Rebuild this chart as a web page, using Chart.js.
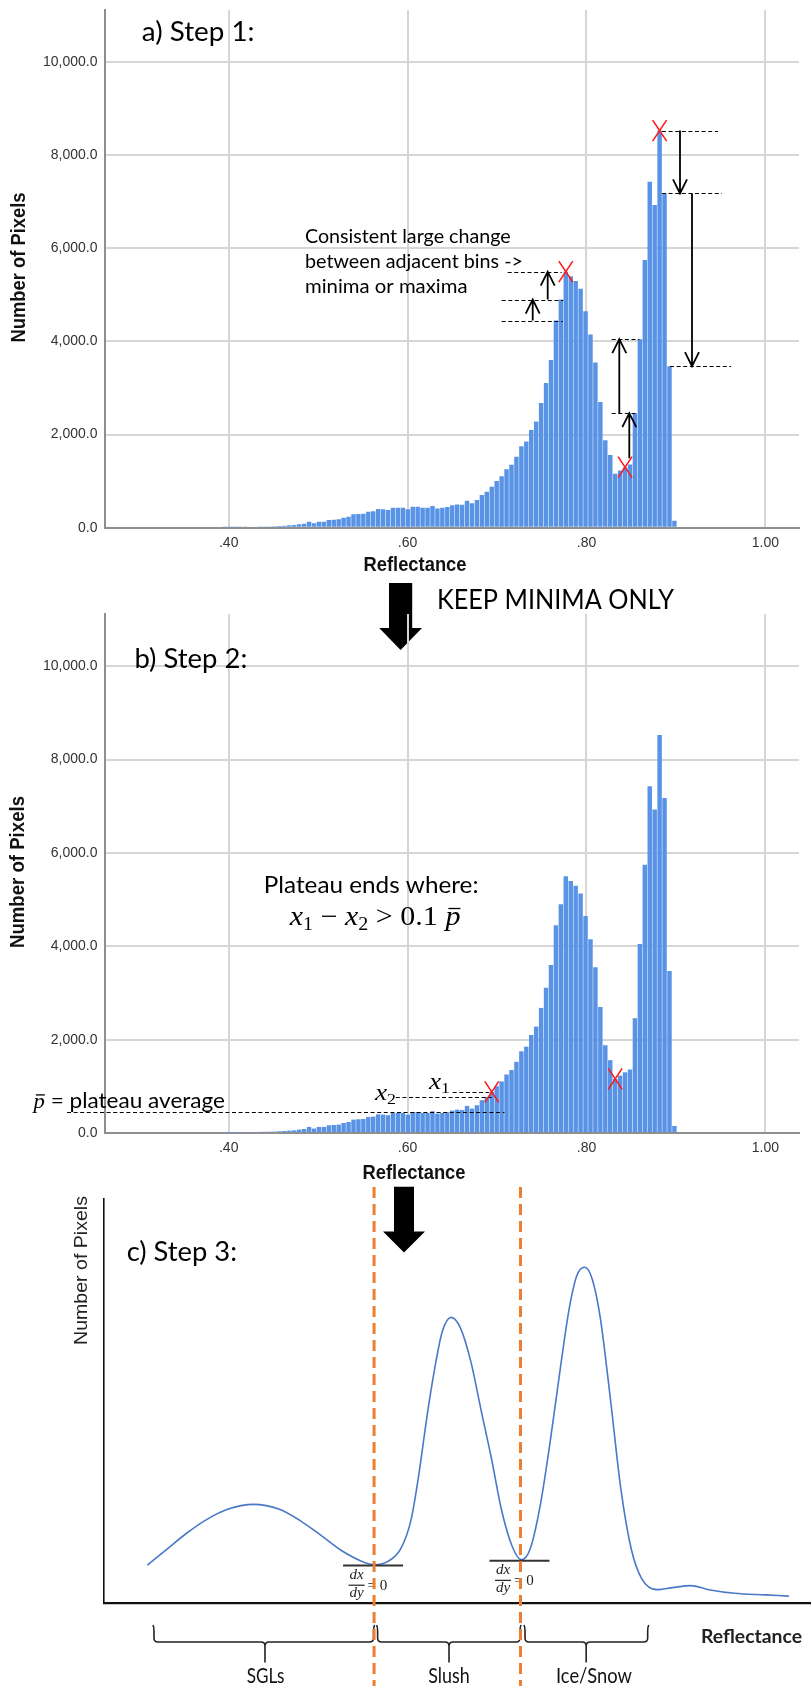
<!DOCTYPE html>
<html>
<head>
<meta charset="utf-8">
<title>Reflectance histogram – threshold steps</title>
<script src="https://cdn.jsdelivr.net/npm/chart.js@4"></script>
<style>
  html, body { margin: 0; padding: 0; background: #fff; }
  body { position: relative; width: 811px; height: 1686px; overflow: hidden; }
  canvas { position: absolute; left: 0; }
  #stepA { top: 0; }
  #stepB { top: 604px; }
  #stepC { top: 1180px; }
</style>
</head>
<body>
<canvas id="stepA" width="811" height="660"></canvas>
<canvas id="stepB" width="811" height="582"></canvas>
<canvas id="stepC" width="811" height="506"></canvas>
<script>
// histogram bins (reflectance) and pixel counts, panels a and b
const BIN_START = 0.396;
const BIN_WIDTH = 0.00552;
const pixelCounts = [
  8, 10, 12, 14, 16, 18, 20, 24, 26, 28,
  30, 36, 43, 50, 57, 72, 86, 130, 95, 130,
  130, 165, 172, 180, 215, 236, 287, 294, 300, 344,
  351, 400, 394, 380, 430, 430, 430, 394, 451, 451,
  430, 430, 466, 415, 430, 444, 480, 500, 494, 580,
  523, 595, 702, 774, 881, 1003, 1105, 1254, 1350, 1525,
  1750, 1850, 2100, 2280, 2680, 3110, 3600, 4450, 4900, 5500,
  5400, 5300, 5130, 4650, 4150, 3550, 2700, 1880, 1560, 1160,
  1230, 1300, 1360, 2460, 4050, 5750, 7430, 6930, 8530, 7180,
  3470, 150
];
const reflectanceBins = pixelCounts.map((_, i) => +(BIN_START + i * BIN_WIDTH).toFixed(5));

const xTicks = [0.4, 0.6, 0.8, 1.0];
const yTicks = [0, 2000, 4000, 6000, 8000, 10000];
const PLATEAU_MEAN = 450;

// smoothed distribution for panel c (arbitrary units)
const curveReflectance = [6.14, 8.7, 11.63, 14.56, 17.48, 21.15, 24.81, 27.74, 30.65, 33.58,
  36.51, 38.34, 40.17, 42.0, 43.47, 44.55, 45.66, 46.76, 47.85, 49.1,
  50.41, 51.88, 53.34, 54.81, 56.27, 57.74, 59.05, 60.3, 61.75, 63.22,
  64.68, 65.78, 66.87, 67.98, 69.07, 70.17, 71.63, 73.1, 74.56, 76.03,
  78.22, 80.41, 82.97, 85.54, 89.19, 93.58, 96.87];
const curveCount = [9.4, 13.0, 17.2, 20.7, 23.2, 24.4, 23.2, 20.4, 16.8, 13.0,
  10.3, 9.5, 10.3, 13.5, 20.9, 32.0, 45.9, 57.9, 67.2, 70.7,
  68.1, 59.8, 47.7, 35.7, 22.7, 14.0, 10.7, 13.5, 24.6, 41.3,
  59.8, 72.7, 81.0, 83.1, 80.1, 70.9, 50.5, 28.3, 13.5, 6.1,
  3.3, 3.8, 4.3, 3.3, 2.4, 2.0, 1.7];
const curveMinima = [11, 26]; // indices of the two troughs
const classNames = ['SGLs', 'Slush', 'Ice/Snow'];

const BAR_BLUE = '#5893e6';
const GRID = '#d6d6d6';
const AXIS = '#8f8f8f';
const SPSS_FONT = "'Liberation Sans', Arial, sans-serif";
const NOTE_FONT = "Lato, 'Open Sans', sans-serif";
const MATH_FONT = "'Liberation Serif', 'DejaVu Serif', serif";

// ---- drawing helpers ----
function label(ctx, text, left, base, font, width, color) {
  ctx.save();
  ctx.font = font;
  ctx.fillStyle = color || '#000';
  ctx.textAlign = 'left';
  ctx.textBaseline = 'alphabetic';
  const w = ctx.measureText(text).width;
  ctx.translate(left, base);
  if (width) ctx.scale(width / w, 1);
  ctx.fillText(text, 0, 0);
  ctx.restore();
}

function centerLabel(ctx, text, cx, base, font, width, color) {
  label(ctx, text, cx - width / 2, base, font, width, color);
}

function sideTitle(ctx, text, cx, cy, font, length, color) {
  ctx.save();
  ctx.font = font;
  ctx.fillStyle = color || '#000';
  ctx.textAlign = 'center';
  ctx.textBaseline = 'middle';
  const w = ctx.measureText(text).width;
  ctx.translate(cx, cy);
  ctx.rotate(-Math.PI / 2);
  ctx.scale(length / w, 1);
  ctx.fillText(text, 0, 0);
  ctx.restore();
}

// a row of mixed-font pieces (used for the little formulas)
function mathRow(ctx, runs, left, base, width) {
  ctx.save();
  ctx.fillStyle = '#000';
  ctx.textBaseline = 'alphabetic';
  const widths = runs.map(r => { ctx.font = r.font; return ctx.measureText(r.text).width; });
  const total = widths.reduce((a, b) => a + b, 0);
  ctx.translate(left, base);
  if (width) ctx.scale(width / total, 1);
  let cx = 0;
  runs.forEach((r, k) => {
    ctx.font = r.font;
    ctx.fillText(r.text, cx, r.dy || 0);
    if (r.bar) ctx.fillRect(cx + widths[k] * 0.2, -r.bar, widths[k] * 0.8, 1.3);
    cx += widths[k];
  });
  ctx.restore();
}

function dashed(ctx, x1, x2, y) {
  ctx.save();
  ctx.strokeStyle = '#000';
  ctx.lineWidth = 1;
  ctx.setLineDash([4, 2.6]);
  ctx.beginPath();
  ctx.moveTo(x1, Math.round(y) + 0.5);
  ctx.lineTo(x2, Math.round(y) + 0.5);
  ctx.stroke();
  ctx.restore();
}

// thin arrow with an open head at y2
function arrow(ctx, x, y1, y2) {
  const dir = Math.sign(y2 - y1);
  ctx.save();
  ctx.strokeStyle = '#000';
  ctx.lineWidth = 1.8;
  ctx.beginPath();
  ctx.moveTo(x, y1);
  ctx.lineTo(x, y2);
  ctx.moveTo(x - 7, y2 - dir * 14);
  ctx.lineTo(x, y2);
  ctx.lineTo(x + 7, y2 - dir * 14);
  ctx.stroke();
  ctx.restore();
}

function cross(ctx, x, y) {
  ctx.save();
  ctx.strokeStyle = '#ff1a1a';
  ctx.lineWidth = 1.6;
  ctx.beginPath();
  ctx.moveTo(x - 7, y - 10.5);
  ctx.lineTo(x + 7, y + 10.5);
  ctx.moveTo(x + 7, y - 10.5);
  ctx.lineTo(x - 7, y + 10.5);
  ctx.stroke();
  ctx.restore();
}

// solid block arrow pointing down
function blockArrow(ctx, cx, top, neck, tip, shaft, head) {
  ctx.save();
  ctx.fillStyle = '#000';
  ctx.beginPath();
  ctx.moveTo(cx - shaft, top);
  ctx.lineTo(cx + shaft, top);
  ctx.lineTo(cx + shaft, neck);
  ctx.lineTo(cx + head, neck);
  ctx.lineTo(cx, tip);
  ctx.lineTo(cx - head, neck);
  ctx.lineTo(cx - shaft, neck);
  ctx.closePath();
  ctx.fill();
  ctx.restore();
}

function brace(ctx, xa, xb, xm, yTop, yMid, yStem) {
  const r = 4;
  ctx.save();
  ctx.strokeStyle = '#222';
  ctx.lineWidth = 1.6;
  ctx.beginPath();
  ctx.moveTo(xa - 1, yTop);
  ctx.quadraticCurveTo(xa, yTop + 2, xa, yTop + 6);
  ctx.lineTo(xa, yMid - r);
  ctx.quadraticCurveTo(xa, yMid, xa + r, yMid);
  ctx.lineTo(xm - r, yMid);
  ctx.quadraticCurveTo(xm, yMid, xm, yMid + r);
  ctx.lineTo(xm, yStem);
  ctx.moveTo(xm, yMid + r);
  ctx.quadraticCurveTo(xm, yMid, xm + r, yMid);
  ctx.lineTo(xb - r, yMid);
  ctx.quadraticCurveTo(xb, yMid, xb, yMid - r);
  ctx.lineTo(xb, yTop + 6);
  ctx.quadraticCurveTo(xb, yTop + 2, xb + 1, yTop);
  ctx.stroke();
  ctx.restore();
}

function pBar(size) {
  return [{ text: 'p', font: `italic ${size}px ${MATH_FONT}`, bar: size * 0.62 }];
}

// ---- panel annotations ----
const stepOneNotes = {
  id: 'stepOneNotes',
  afterDatasetsDraw(chart) {
    const { ctx, scales: { x, y } } = chart;
    const bx = i => x.getPixelForValue(reflectanceBins[i]);
    const by = i => y.getPixelForValue(pixelCounts[i]);

    // first peak: rising steps
    dashed(ctx, 507.7, 561.7, by(69));
    dashed(ctx, 501.7, 563.3, by(68));
    dashed(ctx, 501.7, 562.7, by(67));
    arrow(ctx, 547.7, by(68), by(69));
    arrow(ctx, 532.7, by(67), by(68));

    // trough between the peaks
    dashed(ctx, 611.7, 639.3, by(84));
    dashed(ctx, 611.7, 636.7, by(83));
    arrow(ctx, 619.3, by(83), by(84));
    arrow(ctx, 629.3, by(81) - 9, by(83));

    // second peak: falling steps
    dashed(ctx, 662, 718, by(88));
    dashed(ctx, 662, 722, by(89));
    dashed(ctx, 670, 731, by(90));
    arrow(ctx, 680, by(88), by(89));
    arrow(ctx, 692, by(89), by(90));

    cross(ctx, bx(69), by(69));
    cross(ctx, bx(88), by(88));
    cross(ctx, bx(81), by(81));

    const f = `18.5px ${NOTE_FONT}`;
    label(ctx, 'Consistent large change', 305, 242.8, f, 205.7);
    label(ctx, 'between adjacent bins ->', 305, 267.5, f, 218);
    label(ctx, 'minima or maxima', 305, 293.4, f, 162.5);

    label(ctx, 'a) Step 1:', 141.8, 41.3, `26px ${NOTE_FONT}`, 112.7);
    centerLabel(ctx, 'Reflectance', 415, 571.2, `bold 19.5px ${SPSS_FONT}`, 103, '#111');
    sideTitle(ctx, 'Number of Pixels', 19.2, 267.5, `bold 20px ${SPSS_FONT}`, 150, '#111');

    // link to step 2
    blockArrow(ctx, 400.6, 583, 628, 650, 11.6, 21.4);
    label(ctx, 'KEEP MINIMA ONLY', 437, 608.6, `27px ${NOTE_FONT}`, 237);
  }
};

const stepTwoNotes = {
  id: 'stepTwoNotes',
  afterDatasetsDraw(chart) {
    const { ctx, scales: { x, y } } = chart;
    const bx = i => x.getPixelForValue(reflectanceBins[i]);
    const by = i => y.getPixelForValue(pixelCounts[i]);

    dashed(ctx, 67, 504.4, y.getPixelForValue(PLATEAU_MEAN));
    dashed(ctx, 395.8, 491.5, by(53));
    dashed(ctx, 452.7, 488.9, by(54));
    cross(ctx, bx(54), by(54));
    cross(ctx, bx(79), by(79));

    mathRow(ctx, [
      { text: 'x', font: `italic 23px ${MATH_FONT}` },
      { text: '1', font: `15px ${MATH_FONT}`, dy: 4 }
    ], 429, 485, 21);
    mathRow(ctx, [
      { text: 'x', font: `italic 23px ${MATH_FONT}` },
      { text: '2', font: `15px ${MATH_FONT}`, dy: 4 }
    ], 375, 495.5, 21);

    mathRow(ctx, pBar(22).concat([
      { text: ' = plateau average', font: `22px ${NOTE_FONT}` }
    ]), 33.6, 503.9, 191.4);

    label(ctx, 'Plateau ends where:', 263.8, 288.5, `23.5px ${NOTE_FONT}`, 214.7);
    mathRow(ctx, [
      { text: 'x', font: `italic 27px ${MATH_FONT}` },
      { text: '1', font: `18px ${MATH_FONT}`, dy: 5 },
      { text: ' \u2212 ', font: `27px ${MATH_FONT}` },
      { text: 'x', font: `italic 27px ${MATH_FONT}` },
      { text: '2', font: `18px ${MATH_FONT}`, dy: 5 },
      { text: ' > 0.1 ', font: `27px ${MATH_FONT}` }
    ].concat(pBar(27)), 289.7, 320.6, 170.7);

    label(ctx, 'b) Step 2:', 134.5, 63.5, `26px ${NOTE_FONT}`, 112.8);
    centerLabel(ctx, 'Reflectance', 414, 574.5, `bold 19.5px ${SPSS_FONT}`, 103, '#111');
    sideTitle(ctx, 'Number of Pixels', 18.6, 268, `bold 20px ${SPSS_FONT}`, 152, '#111');
  }
};

const stepThreeNotes = {
  id: 'stepThreeNotes',
  afterDatasetsDraw(chart) {
    const { ctx, scales: { x, y } } = chart;
    const cx = v => x.getPixelForValue(v);

    blockArrow(ctx, 404, 6.7, 51.5, 72.5, 10, 21);
    label(ctx, 'c) Step 3:', 126.7, 81.4, `26px ${NOTE_FONT}`, 110.3);
    sideTitle(ctx, 'Number of Pixels', 81.7, 90.5, `19px ${SPSS_FONT}`, 149, '#222');

    // tangents and dx/dy = 0 at each trough
    curveMinima.forEach(k => {
      const px = cx(curveReflectance[k]);
      const py = y.getPixelForValue(curveCount[k]);
      ctx.save();
      ctx.strokeStyle = '#333';
      ctx.lineWidth = 2;
      ctx.beginPath();
      ctx.moveTo(px - 32, py + 1);
      ctx.lineTo(px + 28, py + 1);
      ctx.stroke();
      ctx.fillStyle = '#222';
      ctx.font = `italic 15px ${MATH_FONT}`;
      ctx.fillText('dx', px - 25.5, py + 14.5);
      ctx.fillText('dy', px - 25.5, py + 32.5);
      ctx.fillRect(px - 26.5, py + 20, 16, 1.2);
      ctx.font = `15px ${MATH_FONT}`;
      ctx.fillText('= 0', px - 7.5, py + 25.5);
      ctx.restore();
    });

    // class brackets under the axis
    const spans = [[7.07, 38.13, 22.77], [38.7, 58.84, 48.8], [59.55, 76.9, 68.2]];
    spans.forEach(s => brace(ctx, cx(s[0]), cx(s[1]), cx(s[2]), 445, 462, 482.6));
    const nameCenters = [22.85, 48.8, 69.3];
    const nameWidths = [37.8, 41.4, 76];
    classNames.forEach((n, k) => centerLabel(ctx, n, cx(nameCenters[k]), 503, `21px ${NOTE_FONT}`, nameWidths[k], '#111'));
    label(ctx, 'Reflectance', 701, 462.6, `bold 19.5px ${NOTE_FONT}`, 101, '#222');

    // class boundaries through the troughs
    ctx.save();
    ctx.strokeStyle = '#ed7d31';
    ctx.lineWidth = 3;
    ctx.setLineDash([11, 6]);
    curveMinima.forEach(k => {
      const px = cx(curveReflectance[k]) - 1;
      ctx.beginPath();
      ctx.moveTo(px, 7);
      ctx.lineTo(px, 506);
      ctx.stroke();
    });
    ctx.restore();
  }
};

// ---- charts ----
function histogram(id, bottomPad, notes) {
  return new Chart(document.getElementById(id), {
    type: 'bar',
    data: {
      datasets: [{
        data: reflectanceBins.map((r, i) => ({ x: r, y: pixelCounts[i] })),
        backgroundColor: BAR_BLUE,
        borderWidth: 0,
        barPercentage: 0.9,
        categoryPercentage: 1
      }]
    },
    options: {
      responsive: false,
      animation: false,
      devicePixelRatio: 1,
      layout: { padding: { left: 0, top: 10, right: 12, bottom: bottomPad } },
      plugins: { legend: { display: false }, tooltip: { enabled: false } },
      scales: {
        x: {
          type: 'linear',
          min: 0.2617,
          max: 1.0376,
          offset: false,
          grid: { offset: false, color: GRID, lineWidth: 2, drawTicks: false },
          border: { color: AXIS, width: 2 },
          afterBuildTicks: s => { s.ticks = xTicks.map(v => ({ value: v })); },
          ticks: {
            padding: 7,
            autoSkip: false,
            maxRotation: 0,
            color: '#333',
            font: { family: SPSS_FONT, size: 14 },
            callback: v => (v >= 1 ? '1.00' : v.toFixed(2).slice(1))
          },
          afterFit: s => { s.height = 40; s.paddingLeft = 0; s.paddingRight = 0; }
        },
        y: {
          min: 0,
          max: 11120,
          grid: { color: GRID, lineWidth: 2, drawTicks: false },
          border: { color: AXIS, width: 2 },
          afterBuildTicks: s => { s.ticks = yTicks.map(v => ({ value: v })); },
          ticks: {
            padding: 7.5,
            color: '#333',
            font: { family: SPSS_FONT, size: 14 },
            callback: v => v.toLocaleString('en-US', { minimumFractionDigits: 1, maximumFractionDigits: 1 })
          },
          afterFit: s => { s.width = 105; s.paddingTop = 0; s.paddingBottom = 0; }
        }
      }
    },
    plugins: [notes]
  });
}

histogram('stepA', 660 - 527.7 - 40, stepOneNotes);
histogram('stepB', 582 - 529 - 40, stepTwoNotes);

new Chart(document.getElementById('stepC'), {
  type: 'line',
  data: {
    datasets: [{
      data: curveReflectance.map((r, i) => ({ x: r, y: curveCount[i] })),
      borderColor: '#4a78c8',
      borderWidth: 1.6,
      pointRadius: 0,
      fill: false,
      cubicInterpolationMode: 'monotone'
    }]
  },
  options: {
    responsive: false,
    animation: false,
    devicePixelRatio: 1,
    layout: { padding: { left: 0, top: 19, right: 0, bottom: 0 } },
    plugins: { legend: { display: false }, tooltip: { enabled: false } },
    scales: {
      x: {
        type: 'linear', min: 0, max: 100,
        grid: { display: false, drawTicks: false },
        border: { color: '#111', width: 2.2 },
        ticks: { display: false },
        afterFit: s => { s.height = 506 - 423; s.paddingLeft = 0; s.paddingRight = 0; }
      },
      y: {
        min: 0, max: 100,
        grid: { display: false, drawTicks: false },
        border: { color: '#111', width: 1.6 },
        ticks: { display: false },
        afterFit: s => { s.width = 104; s.paddingTop = 0; s.paddingBottom = 0; }
      }
    }
  },
  plugins: [stepThreeNotes]
});
</script>
</body>
</html>
